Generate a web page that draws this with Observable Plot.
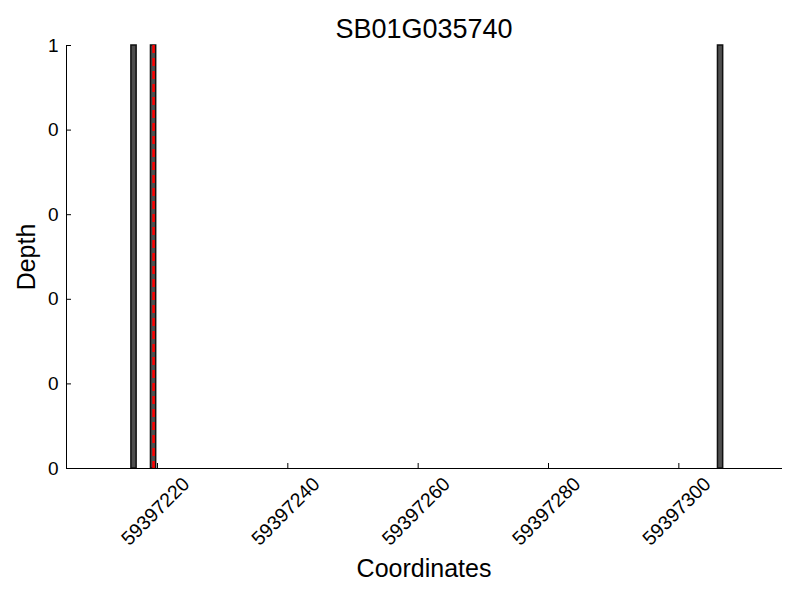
<!DOCTYPE html>
<html>
<head>
<meta charset="utf-8">
<script src="https://cdn.jsdelivr.net/npm/d3@7"></script>
<script src="https://cdn.jsdelivr.net/npm/@observablehq/plot@0.6"></script>
<style>
  html, body { margin: 0; padding: 0; background: #fff; }
  #chart { width: 800px; height: 600px; }
  svg { font-family: "Liberation Sans", Arial, sans-serif; }
</style>
</head>
<body>
<div id="chart"></div>
<script>
// ---- data ----
const title = "SB01G035740";
const barPositions = [59397216, 59397219, 59397306];
const barDepths = [1, 1, 1];
const barWidth = 0.8;
const markerPositions = [59397219.4];
const xTicks = [59397220, 59397240, 59397260, 59397280, 59397300];
const xTickLabels = ["59397220", "59397240", "59397260", "59397280", "59397300"];
const yTicks = [0, 0.2, 0.4, 0.6, 0.8, 1.0];
const yTickLabels = ["0", "0", "0", "0", "0", "1"];
const xDomain = [59397206.04, 59397315.75];
const xLabel = "Coordinates";
const yLabel = "Depth";

const bars = barPositions.map((p, i) => ({pos: p, depth: barDepths[i]}));
const xt = xTicks.map((t, i) => ({t, label: xTickLabels[i]}));
const yt = yTicks.map((t, i) => ({t, label: yTickLabels[i]}));

const M = {left: 66, right: 19, top: 45, bottom: 132};
const frameW = 800 - M.left - M.right;
const frameH = 600 - M.top - M.bottom;

const chart = Plot.plot({
  width: 800,
  height: 600,
  marginLeft: M.left,
  marginRight: M.right,
  marginTop: M.top,
  marginBottom: M.bottom,
  style: {background: "#fff", fontFamily: "'Liberation Sans', Arial, sans-serif"},
  x: {type: "linear", domain: xDomain, axis: null},
  y: {domain: [0, 1], axis: null},
  marks: [
    Plot.rectY(bars, {x1: d => d.pos, x2: d => d.pos + barWidth, y: "depth",
      fill: "#4f4f4f", stroke: "#111", strokeWidth: 1.5}),
    Plot.ruleX(markerPositions, {x: d => d, stroke: "red", strokeWidth: 2.5, strokeDasharray: "8,5"}),
    // spines
    Plot.frame({anchor: "left", stroke: "#000", strokeWidth: 1}),
    Plot.frame({anchor: "bottom", stroke: "#000", strokeWidth: 1}),
    // inward ticks
    Plot.ruleY(yt, {y: "t", insetRight: frameW - 5, stroke: "#000", strokeWidth: 1}),
    Plot.ruleX(xt, {x: "t", insetTop: frameH - 5, stroke: "#000", strokeWidth: 1}),
    // y tick labels
    Plot.text(yt, {y: "t", text: "label", frameAnchor: "left", dx: -8, textAnchor: "end",
      lineAnchor: "middle", fontSize: 19, fill: "#000"}),
    // x tick labels (rotated)
    Plot.text(xt, {x: "t", text: "label", frameAnchor: "bottom", dx: -2, dy: 43, rotate: -45,
      textAnchor: "middle", lineAnchor: "middle", fontSize: 19.5, fill: "#000"}),
    // title and axis labels
    Plot.text([title], {text: d => d, frameAnchor: "top", dy: -16, lineAnchor: "middle",
      fontSize: 27, fill: "#000"}),
    Plot.text([xLabel], {text: d => d, frameAnchor: "bottom", dy: 100, lineAnchor: "middle",
      fontSize: 25, fill: "#000"}),
    Plot.text([yLabel], {text: d => d, frameAnchor: "left", dx: -40, rotate: -90,
      textAnchor: "middle", lineAnchor: "middle", fontSize: 25, fill: "#000"})
  ]
});
document.getElementById("chart").appendChild(chart);
</script>
</body>
</html>
